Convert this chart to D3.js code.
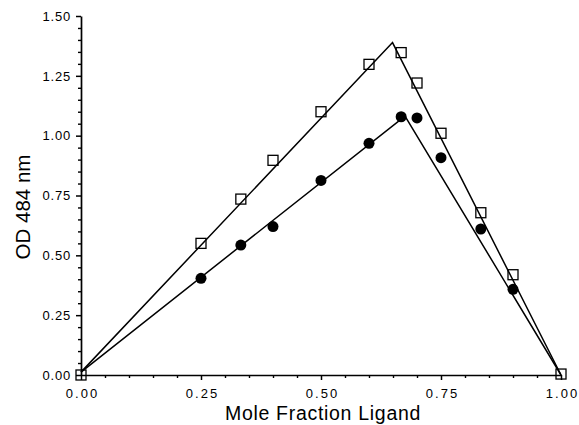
<!DOCTYPE html>
<html>
<head>
<meta charset="utf-8">
<script src="https://cdn.jsdelivr.net/npm/d3@7"></script>
<style>
  html, body { margin: 0; padding: 0; background: #fff; }
  svg { display: block; }
  text { font-family: "Liberation Sans", Arial, Helvetica, sans-serif; fill: #000; }
</style>
</head>
<body>
<svg id="chart" width="579" height="425"></svg>
<script>
// Data
const squareX = [0, 0.25, 0.333, 0.4, 0.5, 0.6, 0.667, 0.7, 0.75, 0.833, 0.9, 1.0];
const squareY = [0.00, 0.55, 0.735, 0.897, 1.10, 1.298, 1.347, 1.22, 1.01, 0.678, 0.419, 0.004];
const circleX = [0.25, 0.333, 0.4, 0.5, 0.6, 0.667, 0.7, 0.75, 0.833, 0.9];
const circleY = [0.404, 0.543, 0.62, 0.813, 0.968, 1.079, 1.074, 0.908, 0.610, 0.358];
const squareFitX = [0, 0.649, 1.0];
const squareFitY = [0.012, 1.389, 0.0];
const circleFitX = [0, 0.675, 1.0];
const circleFitY = [0.012, 1.082, 0.0];
const xTicks = [0, 0.25, 0.5, 0.75, 1.0];
const yTicks = [0, 0.25, 0.5, 0.75, 1.0, 1.25, 1.5];
const xTitle = "Mole Fraction Ligand";
const yTitle = "OD 484 nm";

const svg = d3.select("#chart");
const x = d3.scaleLinear().domain([0, 1]).range([81, 561]);
const y = d3.scaleLinear().domain([0, 1.5]).range([375, 16]);

const minorX = d3.range(0, 1.0001, 0.05).filter(v => !xTicks.some(t => Math.abs(t - v) < 1e-6));
const minorY = d3.range(0, 1.5001, 0.05).filter(v => !yTicks.some(t => Math.abs(t - v) < 1e-6));

// Minor ticks
svg.append("g").attr("transform", `translate(0,${y(0)})`)
  .call(d3.axisBottom(x).tickValues(minorX).tickSize(3).tickFormat(""))
  .call(g => g.select(".domain").remove())
  .call(g => g.selectAll("line").attr("stroke", "#000").attr("stroke-width", 1.4));
svg.append("g").attr("transform", `translate(${x(0)},0)`)
  .call(d3.axisLeft(y).tickValues(minorY).tickSize(3).tickFormat(""))
  .call(g => g.select(".domain").remove())
  .call(g => g.selectAll("line").attr("stroke", "#000").attr("stroke-width", 1.4));

// Major axes
const xAxis = svg.append("g").attr("transform", `translate(0,${y(0)})`)
  .call(d3.axisBottom(x).tickValues(xTicks).tickSize(5).tickSizeOuter(0).tickPadding(9).tickFormat(d3.format(".2f")));
xAxis.select(".domain").attr("stroke", "#000").attr("stroke-width", 1.7);
xAxis.selectAll("line").attr("stroke", "#000").attr("stroke-width", 1.5);
xAxis.selectAll("text").attr("font-size", 13).attr("letter-spacing", "2px")
  .attr("dx", "1px").style("font-family", '"Liberation Sans", Arial, sans-serif');

const yAxis = svg.append("g").attr("transform", `translate(${x(0)},0)`)
  .call(d3.axisLeft(y).tickValues(yTicks).tickSize(5).tickSizeOuter(0).tickPadding(5).tickFormat(d3.format(".2f")));
yAxis.select(".domain").attr("stroke", "#000").attr("stroke-width", 1.7);
yAxis.selectAll("line").attr("stroke", "#000").attr("stroke-width", 1.5);
yAxis.selectAll("text").attr("font-size", 13).attr("letter-spacing", "0.8px")
  .style("font-family", '"Liberation Sans", Arial, sans-serif');

// Fit lines
const line = d3.line().x(d => x(d[0])).y(d => y(d[1]));
svg.append("path").datum(squareFitX.map((v, i) => [v, squareFitY[i]]))
  .attr("d", line).attr("fill", "none").attr("stroke", "#000").attr("stroke-width", 1.5);
svg.append("path").datum(circleFitX.map((v, i) => [v, circleFitY[i]]))
  .attr("d", line).attr("fill", "none").attr("stroke", "#000").attr("stroke-width", 1.5);

// Squares (open)
const sq = 10;
svg.append("g").selectAll("rect").data(squareX.map((v, i) => [v, squareY[i]]))
  .join("rect")
  .attr("x", d => x(d[0]) - sq / 2).attr("y", d => y(d[1]) - sq / 2)
  .attr("width", sq).attr("height", sq)
  .attr("fill", "none").attr("stroke", "#000").attr("stroke-width", 1.3);

// Circles (filled)
svg.append("g").selectAll("circle").data(circleX.map((v, i) => [v, circleY[i]]))
  .join("circle")
  .attr("cx", d => x(d[0])).attr("cy", d => y(d[1])).attr("r", 5.5)
  .attr("fill", "#000");

// Titles
svg.append("text").attr("x", 323).attr("y", 420).attr("text-anchor", "middle")
  .attr("font-size", 19.5).attr("letter-spacing", "0.7px").text(xTitle);
svg.append("text").attr("transform", `translate(30,207) rotate(-90)`)
  .attr("text-anchor", "middle").attr("font-size", 20.5).text(yTitle);
</script>
</body>
</html>
